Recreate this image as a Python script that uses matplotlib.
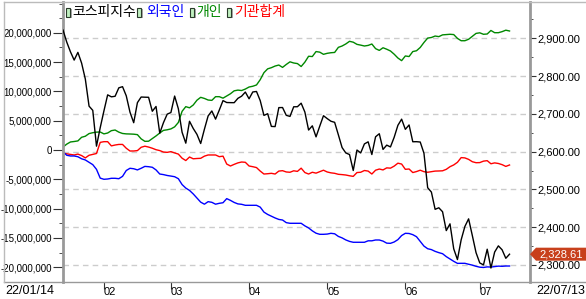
import matplotlib
matplotlib.use("Agg")
import matplotlib.pyplot as plt
import matplotlib.transforms as mtransforms
from matplotlib.patches import Rectangle, Polygon
from matplotlib.lines import Line2D
from matplotlib.ticker import MultipleLocator, FixedLocator, FuncFormatter
import numpy as np
import pandas as pd

plt.rcParams['font.family'] = ['Liberation Sans', 'DejaVu Sans']
plt.rcParams['font.size'] = 8
plt.rcParams['axes.unicode_minus'] = False

# trading days 2022/01/14 - 2022/07/13 (KRX holidays removed)
holidays = ["2022-01-31", "2022-02-01", "2022-02-02", "2022-03-01",
            "2022-03-09", "2022-05-05", "2022-06-01", "2022-06-06"]
days = pd.bdate_range("2022-01-14", "2022-07-13")
days = days[~days.isin(pd.to_datetime(holidays))]

kospi = [2921.92, 2890.10, 2864.24, 2842.28, 2862.68, 2834.29, 2792.00, 2720.39, 2709.24, 2614.49, 2663.34,
         2707.82, 2750.26, 2745.06, 2746.47, 2768.85, 2771.93, 2747.71, 2704.48, 2676.54, 2729.68, 2744.52,
         2744.09, 2743.80, 2706.79, 2719.53, 2648.80, 2676.76, 2699.18,
         2703.52, 2747.08, 2713.43, 2651.31, 2622.40, 2680.32, 2661.28, 2645.65, 2621.53, 2659.23, 2694.51,
         2707.62, 2686.05, 2710.00, 2735.05, 2729.98, 2729.66, 2729.56, 2741.07, 2746.74, 2757.65,
         2739.85, 2757.90, 2759.20, 2735.03, 2695.86, 2700.39, 2666.76, 2666.26, 2716.49, 2716.71, 2696.06,
         2693.21, 2718.69, 2718.89, 2728.21, 2704.71, 2657.13, 2668.31, 2639.06, 2667.49, 2695.05,
         2687.45, 2680.46, 2677.57, 2644.51, 2610.81, 2596.56, 2592.27, 2550.08, 2604.24, 2596.58, 2620.44,
         2625.98, 2592.34, 2639.29, 2647.38, 2605.87, 2617.22, 2612.45, 2638.05, 2669.66, 2685.90,
         2658.99, 2670.65, 2626.15, 2626.34, 2625.44, 2595.87, 2504.51, 2492.97, 2447.38, 2451.41, 2440.93,
         2391.03, 2408.93, 2342.81, 2314.32, 2366.60, 2401.92, 2422.09, 2377.99, 2332.64,
         2305.42, 2300.34, 2341.78, 2292.01, 2334.27, 2350.61, 2340.27, 2317.76, 2328.61]

# cumulative net buying, in millions of the axis unit
foreign = [-0.3, -0.9, -1.02, -1.02, -1.15, -1.5, -1.7, -2.1, -2.5, -3.3, -4.8,
           -5.0, -4.95, -4.83, -4.83, -4.9, -4.5, -3.5, -3.12, -3.2, -3.4, -3.12,
           -2.8, -2.85, -2.95, -3.4, -4.1, -4.2, -4.35,
           -4.45, -4.56, -4.9, -5.9, -6.5, -6.9, -7.5, -8.2, -8.9, -9.25, -8.82,
           -8.93, -9.25, -9.1, -9.0, -8.3, -8.6, -8.95, -9.2, -9.27, -9.44,
           -9.44, -9.44, -9.44, -9.75, -10.6, -11.0, -11.3, -11.6, -11.85, -11.95, -12.4,
           -12.51, -12.51, -12.51, -12.51, -12.95, -13.3, -13.8, -14.2, -14.39, -14.39,
           -14.35, -14.22, -14.3, -14.75, -15.0, -15.35, -15.6, -15.75, -15.75, -15.75, -15.75,
           -15.5, -15.5, -15.36, -15.36, -15.55, -15.9, -15.93, -15.7, -15.3, -14.6,
           -14.22, -14.25, -14.45, -14.8, -15.6, -16.4, -16.85, -17.0, -17.3, -17.52, -17.7,
           -18.2, -18.6, -19.0, -19.35, -19.34, -19.34, -19.5, -19.65, -19.85,
           -20.0, -20.05, -19.95, -19.98, -19.9, -19.82, -19.85, -19.8, -19.8]

individual = [0.5, 1.0, 1.37, 1.45, 1.55, 2.17, 2.35, 2.8, 2.95, 3.05, 3.07,
              2.75, 2.9, 3.3, 3.41, 3.05, 2.82, 2.75, 2.73, 2.7, 2.62, 1.9,
              1.48, 1.5, 1.95, 2.4, 2.9, 3.35, 3.45,
              3.6, 3.95, 4.7, 6.6, 7.4, 7.2, 7.68, 8.5, 8.99, 8.8, 8.53,
              8.47, 9.1, 9.1, 8.85, 9.22, 9.6, 10.1, 10.22, 10.15, 10.4,
              10.75, 10.88, 11.1, 12.0, 13.2, 13.85, 14.05, 14.33, 14.5, 14.1, 14.6,
              15.05, 14.85, 14.75, 14.25, 15.0, 16.0, 15.95, 16.8, 16.7, 16.33,
              16.5, 16.6, 16.65, 17.52, 17.75, 18.1, 18.55, 18.4, 18.03, 17.9, 17.75,
              17.85, 18.09, 17.3, 17.0, 17.45, 17.2, 16.9, 16.35, 15.7, 15.25,
              16.05, 15.95, 16.8, 16.94, 17.5, 18.35, 19.1, 19.2, 19.45, 19.35, 19.65,
              19.7, 19.75, 19.7, 19.05, 18.65, 18.65, 18.9, 19.4, 19.9,
              20.0, 19.75, 19.8, 20.4, 20.02, 20.02, 20.2, 20.45, 20.31]

institution = [-0.55, -0.65, -0.75, -0.85, -0.7, -0.95, -1.35, -0.9, -0.75, -0.6, 1.3,
               1.42, 1.42, 0.7, 0.85, 0.95, 0.95, 0.3, -0.17, -0.17, -0.1, 0.46,
               0.65, 0.5, 0.3, 0.05, -0.1, -0.35, -0.4,
               -0.28, -0.5, -0.7, -1.4, -1.8, -1.2, -1.5, -1.45, -1.42, -1.05, -0.85,
               -0.85, -0.85, -1.14, -1.05, -2.4, -2.73, -2.45, -2.2, -2.05, -2.1,
               -2.73, -2.85, -3.0, -3.6, -4.1, -4.05, -3.98, -4.1, -3.6, -3.53, -3.75,
               -3.8, -3.55, -3.65, -3.1, -3.85, -4.1, -3.8, -3.95, -3.7, -3.45,
               -3.75, -3.9, -3.98, -4.15, -4.2, -4.27, -4.4, -4.5, -3.85, -3.8, -3.5,
               -3.6, -4.1, -3.45, -3.25, -3.4, -3.05, -3.1, -2.75, -2.25, -2.4,
               -3.3, -3.24, -3.85, -3.68, -3.45, -3.7, -3.8, -3.7, -3.6, -3.58, -3.55,
               -3.3, -2.85, -2.55, -2.1, -1.3, -1.35, -1.6, -2.0, -2.17,
               -2.15, -1.9, -1.82, -2.35, -2.2, -2.3, -2.5, -2.8, -2.56]

left_ticks = [-20e6, -15e6, -10e6, -5e6, 0, 5e6, 10e6, 15e6, 20e6]

legend_names = ["코스피지수", "외국인", "개인", "기관합계"]
legend_colors = ["#000000", "#0000ff", "#008800", "#ff0000"]

W, H = 586, 299
fig = plt.figure(figsize=(W / 100, H / 100), dpi=100)
ax = fig.add_axes([63 / W, 17 / H, 467 / W, 280 / H])
ax2 = ax.twinx()

x = np.arange(len(days))
ax2.set_ylim(2255, 2996)

# dashed grid at the right axis ticks, drawn under every line
trans = mtransforms.blended_transform_factory(ax.transAxes, ax2.transData)
for v in range(2300, 2901, 100):
    ax.plot([0, 1], [v, v], transform=trans, color='#cccccc', lw=1, ls=(0, (4, 3)), zorder=0)

ax.plot(x, np.array(individual) * 1e6, color=legend_colors[2], lw=1)
ax.plot(x, np.array(institution) * 1e6, color=legend_colors[3], lw=1)
ax.plot(x, np.array(foreign) * 1e6, color=legend_colors[1], lw=1)
ax2.plot(x, kospi, color=legend_colors[0], lw=1)
ax.set_xlim(0, 125.5)
ax.set_ylim(-22.53e6, 25.26e6)

# left axis
ax.yaxis.set_major_locator(FixedLocator(left_ticks))
ax.yaxis.set_minor_locator(MultipleLocator(2.5e6))
ax.yaxis.set_major_formatter(FuncFormatter(lambda v, p: '{:,.0f}'.format(v)))
ax.tick_params(axis='y', which='major', length=7, color='#333333', pad=1, labelsize=7)
ax.tick_params(axis='y', which='minor', length=3, color='#333333')

# right axis
ax2.yaxis.set_major_locator(MultipleLocator(100))
ax2.yaxis.set_minor_locator(MultipleLocator(50))
ax2.yaxis.set_major_formatter(FuncFormatter(lambda v, p: '{:,.2f}'.format(v)))
ax2.tick_params(axis='y', which='major', length=4, color='#333333', pad=1, labelsize=8)
ax2.tick_params(axis='y', which='minor', length=2, color='#333333')

# month ticks
months = days.month
month_idx = [i for i in range(1, len(days)) if months[i] != months[i - 1]]
ax.set_xticks(month_idx)
ax.set_xticklabels(['{:02d}'.format(months[i]) for i in month_idx], ha='left')
ax.tick_params(axis='x', length=5, color='#333333', pad=-1.5, labelsize=8)

for s in ['top', 'bottom']:
    ax.spines[s].set_visible(False)
    ax2.spines[s].set_visible(False)
ax2.spines['left'].set_visible(False)
ax.spines['right'].set_visible(False)
ax.spines['left'].set_color('#999999')
ax.spines['left'].set_linewidth(2)
ax2.spines['right'].set_color('#999999')
ax2.spines['right'].set_linewidth(2)

# frame lines
fig.add_artist(Line2D([4 / W, 1], [(H - 282) / H] * 2, color='#999999', lw=1))
fig.add_artist(Line2D([4 / W, 1], [(H - 2) / H] * 2, color='#bbbbbb', lw=1))
fig.add_artist(Line2D([4 / W] * 2, [(H - 282) / H, (H - 2) / H], color='#bbbbbb', lw=1))

# first / last date
fig.text(5 / W, (H - 290.5) / H, days[0].strftime('%y/%m/%d'), va='center', ha='left', fontsize=9)
fig.text(585 / W, (H - 290.5) / H, days[-1].strftime('%y/%m/%d'), va='center', ha='right', fontsize=9)

# legend
icon_x = [66, 137, 190, 227]
text_x = [72, 146, 196, 234]
for ix, tx, name, col in zip(icon_x, text_x, legend_names, legend_colors):
    fig.add_artist(Rectangle(((ix + 2) / W, (H - 18) / H), 4 / W, 9 / H, transform=fig.transFigure,
                             facecolor='#a8a8a8', edgecolor='none'))
    fig.add_artist(Rectangle((ix / W, (H - 17) / H), 4 / W, 9 / H, transform=fig.transFigure,
                             facecolor='#c0f0c0', edgecolor='#2a3a2a', lw=0.8))
    fig.text(tx / W, (H - 12) / H, name, color=col, va='center', ha='left',
             family=['Noto Sans CJK KR', 'DejaVu Sans'], fontsize=10)

# last price tag
yc = ax2.transData.transform((0, kospi[-1]))[1]
tag = Polygon([(530 / W, yc / H), (536 / W, (yc + 6.5) / H), (586 / W, (yc + 6.5) / H),
               (586 / W, (yc - 6.5) / H), (536 / W, (yc - 6.5) / H)],
              closed=True, transform=fig.transFigure, facecolor='#c8401c', edgecolor='none')
fig.add_artist(tag)
fig.text(561 / W, yc / H, '{:,.2f}'.format(kospi[-1]), color='white', va='center', ha='center', fontsize=8)

fig.savefig('out.png', dpi=100)
